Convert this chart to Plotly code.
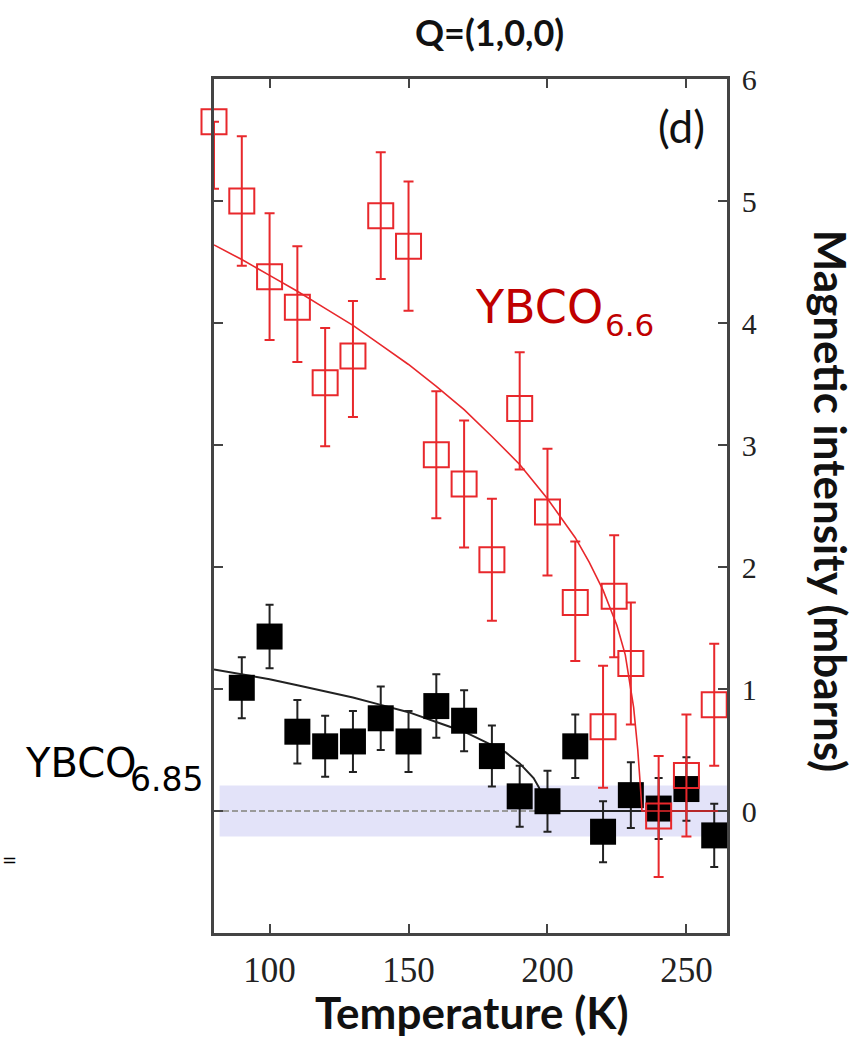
import plotly.graph_objects as go

# ---------------- data ----------------
red_T = [80, 90, 100, 110, 120, 130, 140, 150, 160, 170, 180, 190, 200, 210, 220, 224, 230, 240, 250, 260]
red_I = [5.65, 5.00, 4.38, 4.13, 3.51, 3.73, 4.88, 4.63, 2.92, 2.68, 2.06, 3.30, 2.45, 1.71, 0.69, 1.76, 1.21, -0.04, 0.29, 0.87]
red_err_plus = [0.0, 0.53, 0.52, 0.50, 0.45, 0.45, 0.52, 0.53, 0.52, 0.52, 0.50, 0.46, 0.52, 0.50, 0.50, 0.50, 0.50, 0.49, 0.50, 0.50]
red_err_minus = [0.55, 0.53, 0.52, 0.45, 0.52, 0.50, 0.52, 0.53, 0.52, 0.52, 0.50, 0.50, 0.52, 0.48, 0.50, 0.50, 0.50, 0.50, 0.50, 0.50]

blk_T = [90, 100, 110, 120, 130, 140, 150, 160, 170, 180, 190, 200, 210, 220, 230, 240, 250, 260]
blk_I = [1.01, 1.43, 0.65, 0.53, 0.57, 0.76, 0.57, 0.86, 0.74, 0.45, 0.12, 0.08, 0.53, -0.17, 0.13, 0.02, 0.18, -0.20]
blk_err = [0.25, 0.26, 0.26, 0.25, 0.25, 0.26, 0.25, 0.26, 0.25, 0.25, 0.25, 0.25, 0.26, 0.25, 0.27, 0.25, 0.26, 0.26]

# fitted curves
red_fit_T = [80, 90, 100, 110, 120, 130, 140, 150, 160, 170, 180, 190, 200, 210, 215, 220, 225, 228, 231, 232.5, 233.5, 234, 265]
red_fit_I = [4.64, 4.52, 4.39, 4.26, 4.12, 3.98, 3.82, 3.66, 3.48, 3.29, 3.07, 2.84, 2.56, 2.24, 2.04, 1.81, 1.52, 1.28, 0.85, 0.50, 0.18, 0.0, 0.0]
blk_fit_T = [80, 90, 100, 110, 120, 130, 140, 150, 160, 170, 180, 185, 190, 195, 197, 198, 198.5, 265]
blk_fit_I = [1.16, 1.12, 1.08, 1.03, 0.98, 0.93, 0.87, 0.81, 0.73, 0.65, 0.54, 0.48, 0.39, 0.27, 0.19, 0.10, 0.0, 0.0]

band_lo, band_hi = -0.21, 0.21
band_T0 = 82.0

x_ticks = [100, 150, 200, 250]
y_ticks = [0, 1, 2, 3, 4, 5, 6]

# ---------------- layout geometry ----------------
W, H = 866, 1038
L, R, T, B = 214.3, 727.0, 79.0, 933.5

def px(xp):
    return (xp - L) / (R - L)

def py(yp):
    return (B - yp) / (B - T)

RED = "#e8282c"
fig = go.Figure()

# band (lavender)
fig.add_shape(type="rect", xref="x", yref="y", x0=band_T0, x1=264.6, y0=band_lo, y1=band_hi,
              fillcolor="#e3e3f9", line_width=0, layer="below")
# dashed zero line
fig.add_shape(type="line", xref="x", yref="y", x0=80, x1=264.6, y0=0, y1=0,
              line=dict(color="#9a9a9a", width=2, dash="6px,3px"), layer="below")

fig.add_trace(go.Scatter(x=blk_fit_T, y=blk_fit_I, mode="lines",
                         line=dict(color="#222222", width=2), hoverinfo="skip", showlegend=False))
fig.add_trace(go.Scatter(x=blk_T, y=blk_I, mode="markers",
                         marker=dict(symbol="square", size=26, color="black", line=dict(width=0)),
                         error_y=dict(type="data", array=blk_err, color="#222222", thickness=2, width=4),
                         cliponaxis=False, showlegend=False))
fig.add_trace(go.Scatter(x=red_fit_T, y=red_fit_I, mode="lines",
                         line=dict(color=RED, width=1.6), hoverinfo="skip", showlegend=False))
fig.add_trace(go.Scatter(x=red_T, y=red_I, mode="markers",
                         marker=dict(symbol="square-open", size=25, color=RED, line=dict(width=2, color=RED)),
                         error_y=dict(type="data", symmetric=False, array=red_err_plus, arrayminus=red_err_minus,
                                      color=RED, thickness=2, width=5),
                         cliponaxis=False, showlegend=False))

axis_common = dict(showline=True, linecolor="#444444", linewidth=2.5, mirror="ticks",
                   ticks="inside", ticklen=9, tickwidth=2, tickcolor="#444444",
                   showgrid=False, zeroline=False, layer="above traces")

fig.update_xaxes(range=[80.0, 264.6], tickvals=x_ticks, ticktext=[str(v) for v in x_ticks],
                 tickfont=dict(family="Liberation Serif", size=35, color="#222222"),
                 ticklabelstandoff=4, **axis_common)
fig.update_yaxes(range=[-1.0, 6.0], side="right", tickvals=y_ticks, ticktext=[str(v) for v in y_ticks],
                 tickfont=dict(family="Liberation Serif", size=30, color="#222222"),
                 ticklabelstandoff=6, **axis_common)

ann = []
ann.append(dict(text="<b>Q=(1,0,0)</b>", x=px(490), y=py(32), xref="paper", yref="paper",
                showarrow=False, font=dict(family="Lato", size=36, color="#111111"),
                xanchor="center", yanchor="middle"))
ann.append(dict(text="(d)", x=px(682), y=py(126), xref="paper", yref="paper",
                showarrow=False, font=dict(family="Lato", size=44, color="#111111"),
                xanchor="center", yanchor="middle"))
ann.append(dict(text="<b>Magnetic intensity (mbarns)</b>", x=px(831), y=py(501), xref="paper", yref="paper",
                showarrow=False, textangle=90, font=dict(family="Lato", size=44, color="#111111"),
                xanchor="center", yanchor="middle"))
ann.append(dict(text="<b>Temperature (K)</b>", x=px(472), y=py(1013), xref="paper", yref="paper",
                showarrow=False, font=dict(family="Lato", size=44, color="#111111"),
                xanchor="center", yanchor="middle"))
# sample labels
ann.append(dict(text="YBCO", x=px(473), y=py(307), xref="paper", yref="paper",
                showarrow=False, font=dict(family="DejaVu Sans", size=46, color="#c00000"),
                xanchor="left", yanchor="middle"))
ann.append(dict(text="6.6", x=px(603), y=py(325), xref="paper", yref="paper",
                showarrow=False, font=dict(family="DejaVu Sans", size=31, color="#c00000"),
                xanchor="left", yanchor="middle"))
ann.append(dict(text="YBCO", x=px(23), y=py(763), xref="paper", yref="paper",
                showarrow=False, font=dict(family="DejaVu Sans", size=40, color="black"),
                xanchor="left", yanchor="middle"))
ann.append(dict(text="6.85", x=px(128), y=py(780), xref="paper", yref="paper",
                showarrow=False, font=dict(family="DejaVu Sans", size=33, color="black"),
                xanchor="left", yanchor="middle"))
ann.append(dict(text="=", x=px(0), y=py(860), xref="paper", yref="paper",
                showarrow=False, font=dict(family="DejaVu Sans", size=18, color="black"),
                xanchor="left", yanchor="middle"))
fig.update_layout(annotations=ann)

fig.update_layout(width=W, height=H, autosize=False,
                  margin=dict(l=L, r=W - R, t=T, b=H - B, pad=0),
                  paper_bgcolor="white", plot_bgcolor="white", showlegend=False)

fig.write_html("out.html")
